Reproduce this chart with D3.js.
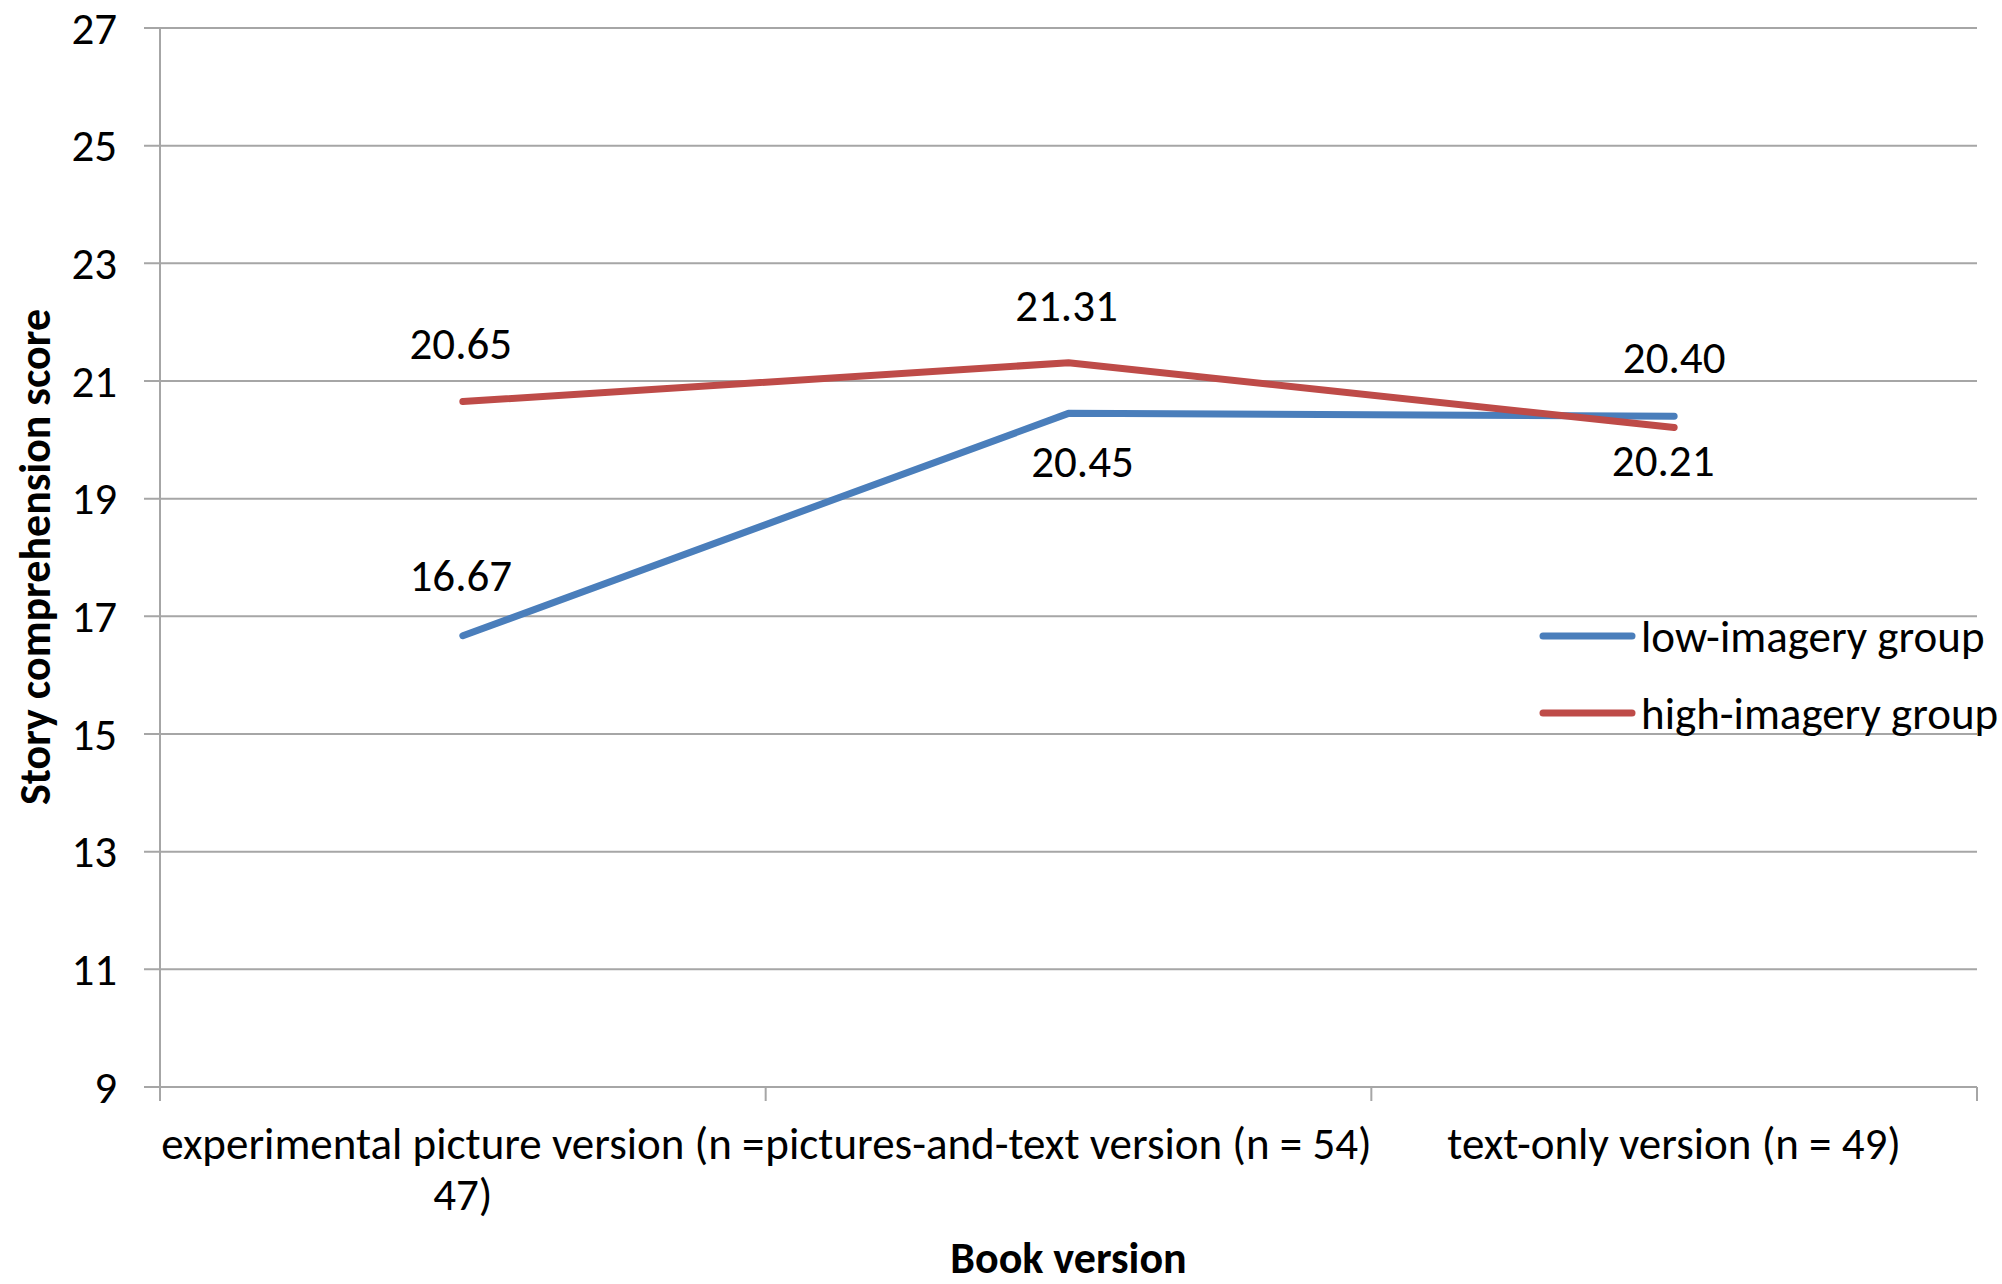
<!DOCTYPE html>
<html>
<head>
<meta charset="utf-8">
<script src="https://cdn.jsdelivr.net/npm/d3@7"></script>
<style>
  body { margin: 0; background: #fff; }
  text { font-family: Carlito, "Liberation Sans Narrow", Lato, sans-serif; fill: #000; }
</style>
</head>
<body>
<div id="chart"></div>
<script>
// categories on the x axis, "\n" marks where the label wraps
const categories = [
    "experimental picture version (n =\n47)",
    "pictures-and-text version (n = 54)",
    "text-only version (n = 49)"
];
const lowImagery = [16.67, 20.45, 20.40];
const highImagery = [20.65, 21.31, 20.21];
const seriesNames = ["low-imagery group", "high-imagery group"];
const yTicks = [9, 11, 13, 15, 17, 19, 21, 23, 25, 27];

const width = 2002, height = 1284;
const plotLeft = 160, plotRight = 1977, plotTop = 28, plotBottom = 1087;
const fontSize = "45px";

const svg = d3.select("#chart")
    .append("svg")
    .attr("width", width)
    .attr("height", height);

const x = d3.scaleBand().domain(categories).range([plotLeft, plotRight]);
const y = d3.scaleLinear().domain([9, 27]).range([plotBottom, plotTop]);

// gridlines
svg.selectAll("line.grid")
    .data(yTicks)
    .enter().append("line")
    .attr("class", "grid")
    .attr("x1", plotLeft - 16)
    .attr("x2", plotRight)
    .attr("y1", d => y(d))
    .attr("y2", d => y(d))
    .attr("stroke", "#a6a6a6")
    .attr("stroke-width", 2);

// y axis line
svg.append("line")
    .attr("x1", plotLeft).attr("x2", plotLeft)
    .attr("y1", plotTop).attr("y2", plotBottom + 14)
    .attr("stroke", "#a6a6a6")
    .attr("stroke-width", 2);

// x category boundary ticks
const bounds = categories.map(c => x(c)).concat([plotRight]);
svg.selectAll("line.xtick")
    .data(bounds.slice(1))
    .enter().append("line")
    .attr("class", "xtick")
    .attr("x1", d => d).attr("x2", d => d)
    .attr("y1", plotBottom).attr("y2", plotBottom + 14)
    .attr("stroke", "#a6a6a6")
    .attr("stroke-width", 2);

// y tick labels
svg.selectAll("text.ytick")
    .data(yTicks)
    .enter().append("text")
    .attr("class", "ytick")
    .attr("x", 117)
    .attr("y", d => y(d))
    .attr("dy", "0.35em")
    .attr("text-anchor", "end")
    .style("font-size", fontSize)
    .text(d => d);

// x tick labels
svg.selectAll("text.xlabel")
    .data(categories)
    .enter().append("text")
    .attr("class", "xlabel")
    .attr("text-anchor", "middle")
    .style("font-size", fontSize)
    .each(function (d) {
        const lines = d.split("\n");
        d3.select(this).selectAll("tspan")
            .data(lines)
            .enter().append("tspan")
            .attr("x", x(d) + x.bandwidth() / 2)
            .attr("y", (l, i) => 1159 + i * 51)
            .text(l => l);
    });

// axis titles
svg.append("text")
    .attr("x", (plotLeft + plotRight) / 2)
    .attr("y", 1273)
    .attr("text-anchor", "middle")
    .style("font-size", "44px")
    .style("font-weight", "bold")
    .text("Book version");

svg.append("text")
    .attr("transform", "translate(50," + 557 + ") rotate(-90)")
    .attr("text-anchor", "middle")
    .style("font-size", "44px")
    .style("font-weight", "bold")
    .text("Story comprehension score");

// lines
const cx = c => x(c) + x.bandwidth() / 2;
const line = d3.line()
    .x((d, i) => cx(categories[i]))
    .y(d => y(d));

const series = [
    { name: seriesNames[0], values: lowImagery, color: "#4a7ebb" },
    { name: seriesNames[1], values: highImagery, color: "#be4b48" }
];

svg.selectAll("path.series")
    .data(series)
    .enter().append("path")
    .attr("class", "series")
    .attr("d", d => line(d.values))
    .attr("fill", "none")
    .attr("stroke", d => d.color)
    .attr("stroke-width", 7)
    .attr("stroke-linecap", "round")
    .attr("stroke-linejoin", "round");

// data labels: above or below each point as in the original
const labelOffsets = [
    [-45, 64, -43],
    [-43, -42, 49]
];
const labelShift = [
    [-2, 14, 0],
    [-2, -2, -11]
];
series.forEach((s, si) => {
    svg.selectAll("text.lab" + si)
        .data(s.values)
        .enter().append("text")
        .attr("class", "lab" + si)
        .attr("x", (d, i) => cx(categories[i]) + labelShift[si][i])
        .attr("y", (d, i) => y(d) + labelOffsets[si][i])
        .attr("text-anchor", "middle")
        .style("font-size", fontSize)
        .text(d => d.toFixed(2));
});

// legend
const legend = svg.selectAll("g.legend")
    .data(series)
    .enter().append("g")
    .attr("class", "legend")
    .attr("transform", (d, i) => "translate(1543," + (636 + i * 77) + ")");

legend.append("line")
    .attr("x1", 0).attr("x2", 89)
    .attr("stroke", d => d.color)
    .attr("stroke-width", 7)
    .attr("stroke-linecap", "round");

legend.append("text")
    .attr("x", 98)
    .attr("dy", "0.35em")
    .style("font-size", fontSize)
    .text(d => d.name);
</script>
</body>
</html>
